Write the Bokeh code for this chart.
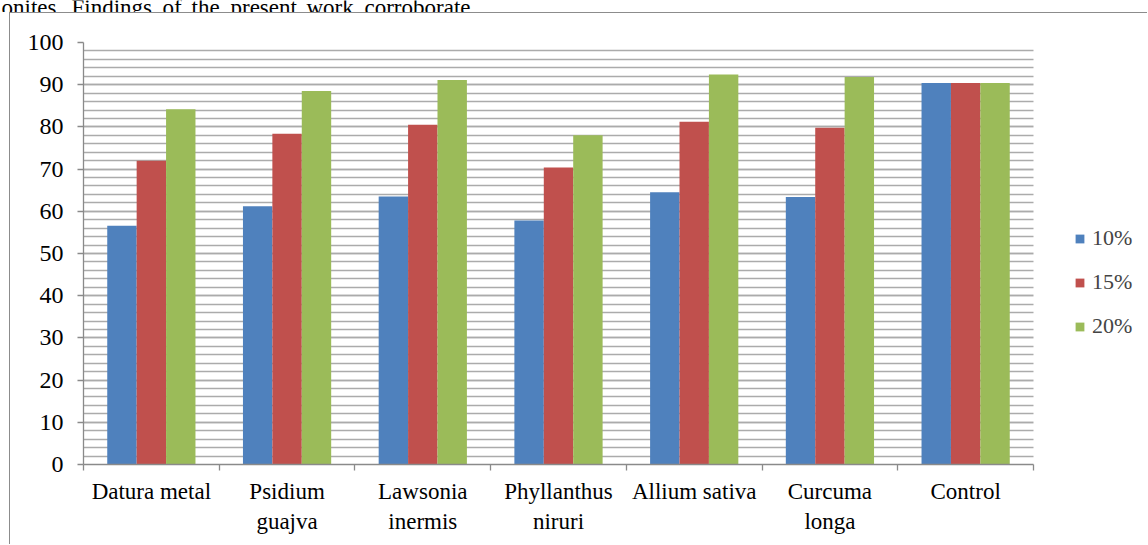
from bokeh.plotting import figure
from bokeh.layouts import column
from bokeh.models import (Range1d, FixedTicker, Legend, LegendItem, BoxAnnotation,
                          ColumnDataSource, GlobalInlineStyleSheet)
from bokeh.core.properties import value
from bokeh.embed import file_html
from bokeh.resources import INLINE

categories = ["Datura metal", "Psidium\nguajva", "Lawsonia\ninermis",
              "Phyllanthus\nniruri", "Allium sativa", "Curcuma\nlonga", "Control"]
series_names = ["10%", "15%", "20%"]
s10 = [56.6, 61.2, 63.5, 57.8, 64.5, 63.4, 90.4]
s15 = [72.0, 78.4, 80.5, 70.4, 81.2, 79.8, 90.4]
s20 = [84.2, 88.5, 91.1, 78.0, 92.4, 91.8, 90.4]
colors = ["#4F81BD", "#C0504D", "#9BBB59"]
y_ticks = list(range(0, 101, 10))
y_minor = list(range(0, 101, 2))
header_words = ["onites.", "Findings", "of", "the", "present", "work", "corroborate"]
header_word_x = [1, 71, 162, 191, 230, 306, 364]

FONT = "Liberation Serif"
GRID = "#ABABAB"
AXIS = "#8A8A8A"
FS = "23px"

# ---- partially visible page text above the chart (separate strip) ----
HDR_H = 12
hdr = figure(width=1148, height=HDR_H, x_range=Range1d(0, 1148), y_range=Range1d(HDR_H, 0),
             output_backend="svg", toolbar_location=None,
             x_axis_location=None, y_axis_location=None,
             min_border=0, min_border_left=0, min_border_right=0,
             min_border_top=0, min_border_bottom=0)
hdr.outline_line_color = None
hdr.grid.visible = False
hdr.text(x=header_word_x, y=[7] * len(header_words), text=header_words,
         text_font=value(FONT), text_font_size="23px", text_baseline="alphabetic",
         text_align="left", text_color="black")

# ---- chart ----
CANVAS_W, CANVAS_H = 1138, 532
LEFT, TOP, BOTTOM = 73, 29, 81
PLOT_PX = 950          # pixel width of the 7 categories
n = len(categories)
x_end = n * (CANVAS_W - LEFT) / PLOT_PX

p = figure(width=CANVAS_W, height=CANVAS_H, x_range=Range1d(0, x_end), y_range=Range1d(0, 100),
           output_backend="svg", toolbar_location=None,
           min_border_left=LEFT, min_border_right=0, min_border_top=TOP, min_border_bottom=BOTTOM)
p.margin = (0, 0, 0, 9)
p.styles = {"border-left": "1px solid #8C8C8C", "border-top": "1px solid #8C8C8C"}
p.outline_line_color = None
p.background_fill_color = "white"
p.border_fill_color = "white"

for fig in (hdr, p):
    try:
        fig.frame_align = False
    except Exception:
        pass

bar_w = 0.2167
offsets = [-bar_w, 0.0, bar_w]
renderers = []
for vals, off, col in zip([s10, s15, s20], offsets, colors):
    src = ColumnDataSource(dict(x=[i + 0.5 + off for i in range(n)], top=vals))
    r = p.vbar(x="x", top="top", width=bar_w, bottom=0, source=src,
               fill_color=col, line_color=None)
    renderers.append(r)

# y axis & grid
yt = FixedTicker(ticks=y_ticks, minor_ticks=y_minor)
p.yaxis.ticker = yt
p.ygrid.ticker = yt
p.ygrid.grid_line_color = GRID
p.ygrid.grid_line_width = 1.6
p.ygrid.minor_grid_line_color = GRID
p.ygrid.minor_grid_line_width = 1.6
p.xgrid.visible = False
p.yaxis.axis_line_color = AXIS
p.yaxis.axis_line_width = 1.3
p.yaxis.major_tick_line_color = AXIS
p.yaxis.major_tick_line_width = 1.3
p.yaxis.major_tick_out = 6
p.yaxis.major_tick_in = 0
p.yaxis.minor_tick_line_color = None
p.yaxis.major_label_text_font = FONT
p.yaxis.major_label_text_font_size = "24px"
p.yaxis.major_label_text_color = "black"
p.yaxis.major_label_standoff = 14

# x axis
centers = [i + 0.5 for i in range(n)]
xt = FixedTicker(ticks=centers, minor_ticks=list(range(n + 1)))
p.xaxis.ticker = xt
p.xaxis.bounds = (0, n)
p.xaxis.major_label_overrides = {c: lab for c, lab in zip(centers, categories)}
p.xaxis.axis_line_color = AXIS
p.xaxis.axis_line_width = 1.3
p.xaxis.major_tick_line_color = None
p.xaxis.major_tick_out = 6
p.xaxis.major_tick_in = 0
p.xaxis.minor_tick_line_color = AXIS
p.xaxis.minor_tick_line_width = 1.3
p.xaxis.minor_tick_out = 6
p.xaxis.minor_tick_in = 0
p.xaxis.major_label_text_font = FONT
p.xaxis.major_label_text_font_size = FS
p.xaxis.major_label_text_color = "black"
p.xaxis.major_label_standoff = 8

# white area right of the plot (gridlines stop at the last category)
p.add_layout(BoxAnnotation(left=n, fill_color="white", fill_alpha=1.0, line_color=None,
                           level="underlay"))

# legend
legend = Legend(items=[LegendItem(label=nm, renderers=[r]) for nm, r in zip(series_names, renderers)],
                location=(991, 125), padding=0, margin=0, spacing=18,
                glyph_width=11, glyph_height=11, label_height=26, label_standoff=7,
                label_text_font=FONT, label_text_font_size="22px",
                border_line_color=None, background_fill_alpha=0)
p.add_layout(legend, "center")

root = column(hdr, p, spacing=0)
root.stylesheets = [GlobalInlineStyleSheet(css="html, body { margin: 0 !important; overflow: hidden; }")]

open("out.html", "w").write(file_html(root, INLINE))
